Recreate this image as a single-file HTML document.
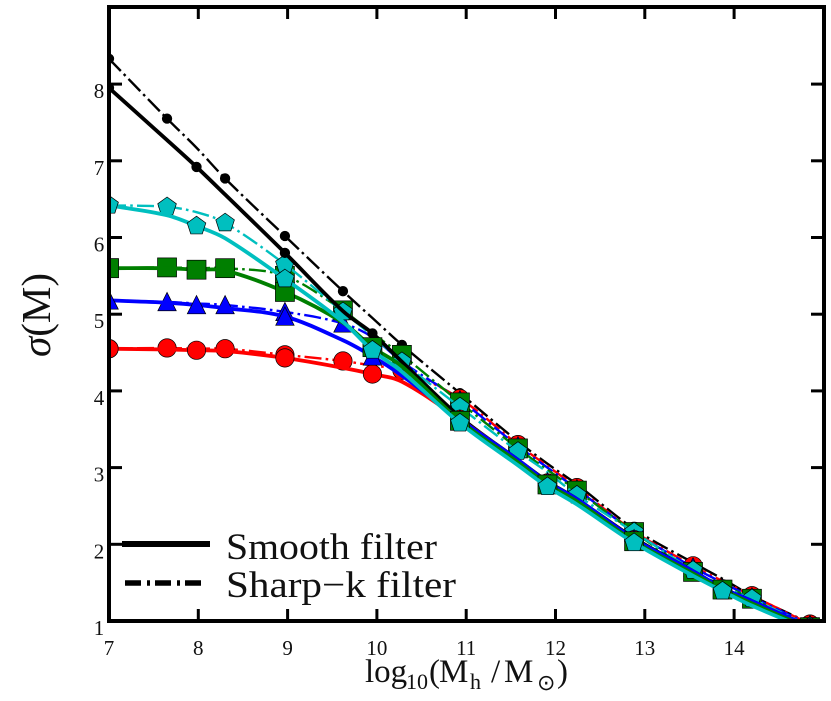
<!DOCTYPE html>
<html>
<head>
<meta charset="utf-8">
<style>
html,body{margin:0;padding:0;background:#fff;}
svg{display:block;font-family:"Liberation Serif",serif;}
</style>
</head>
<body>
<svg id="chart" xmlns="http://www.w3.org/2000/svg" width="831" height="701" viewBox="0 0 831 701">
<rect width="831" height="701" fill="#fff"/>
<defs><clipPath id="plot-clip"><rect x="109" y="7" width="715" height="614"/></clipPath></defs>
<g id="series" clip-path="url(#plot-clip)"></g>
<g id="axes"></g>
<text transform="translate(50,315) rotate(-90)" text-anchor="middle" font-size="41" fill="#111"><tspan font-style="italic">σ</tspan>(M)</text>
<g fill="#111" font-size="33">
<text x="365" y="682">log</text>
<text x="406" y="689" font-size="22">10</text>
<text x="429" y="682">(</text>
<text x="439" y="682">M</text>
<text x="470" y="689" font-size="22">h</text>
<text x="491" y="682">/</text>
<text x="504" y="682">M</text>
<text x="537" y="690" font-size="22">⊙</text>
<text x="557" y="682">)</text>
</g>
<g>
<line x1="122" y1="544" x2="210" y2="544" stroke="#000" stroke-width="6"/>
<text x="226" y="559" font-size="37" textLength="211" lengthAdjust="spacingAndGlyphs" fill="#111">Smooth filter</text>
<line x1="125" y1="583" x2="204" y2="583" stroke="#000" stroke-width="5.5" stroke-dasharray="16 6 3 5"/>
<text x="226" y="597" font-size="37" textLength="230" lengthAdjust="spacingAndGlyphs" fill="#111">Sharp−k filter</text>
</g>
</svg>
<script>
const logMass = [7,7.65,7.98,8.3,8.97,9.62,9.95,10.28,10.93,11.58,11.91,12.24,12.88,13.54,13.87,14.2,14.85];
const smoothIdx = [0,2,4,6,8,10,12,14,16];
const sharpIdx = [0,1,3,4,5,7,8,9,11,12,13,15,16];
const xTickLabels = [7,8,9,10,11,12,13,14];
const yTickLabels = [1,2,3,4,5,6,7,8];

const smoothBlack = [7.95,7.27,6.92,6.56,5.80,5.04,4.75,4.38,3.66,3.10,2.82,2.59,2.08,1.65,1.43,1.26,0.92];
const smoothRed   = [4.55,4.54,4.53,4.52,4.43,4.30,4.22,4.12,3.63,3.09,2.80,2.58,2.06,1.64,1.42,1.25,0.91];
const smoothBlue  = [5.18,5.15,5.12,5.08,4.97,4.66,4.45,4.20,3.63,3.10,2.81,2.59,2.07,1.65,1.43,1.26,0.92];
const smoothGreen = [5.60,5.60,5.58,5.57,5.29,4.89,4.57,4.32,3.61,3.07,2.78,2.56,2.04,1.62,1.41,1.23,0.90];
const smoothCyan  = [6.42,6.29,6.15,5.99,5.46,4.90,4.53,4.25,3.58,3.03,2.75,2.52,2.02,1.59,1.39,1.20,0.88];

const sharpBlack = [8.33,7.55,7.17,6.77,6.02,5.30,4.95,4.60,3.97,3.34,3.05,2.78,2.20,1.76,1.55,1.33,0.97];
const sharpRed   = [4.55,4.56,4.55,4.55,4.47,4.39,4.33,4.27,3.90,3.30,3.02,2.74,2.17,1.72,1.52,1.33,0.96];
const sharpBlue  = [5.18,5.16,5.14,5.12,5.03,4.88,4.70,4.38,3.88,3.28,3.00,2.72,2.16,1.70,1.50,1.31,0.95];
const sharpGreen = [5.60,5.61,5.60,5.60,5.50,5.05,4.75,4.47,3.85,3.25,2.97,2.70,2.16,1.64,1.47,1.29,0.92];
const sharpCyan  = [6.42,6.40,6.33,6.19,5.65,5.03,4.72,4.38,3.79,3.21,2.94,2.64,2.16,1.66,1.45,1.29,0.93];

const NS = 'http://www.w3.org/2000/svg';
function xScale(v){ return 109 + (v - 7) * 89.3; }
function yScale(v){ return 621 - (v - 1) * 76.7; }

function curvePath(xs, ys){
  const px = xs.map(xScale), py = ys.map(yScale), n = px.length, m = [];
  for(let i = 0; i < n; i++){
    if(i === 0) m.push((py[1]-py[0])/(px[1]-px[0]));
    else if(i === n-1) m.push((py[n-1]-py[n-2])/(px[n-1]-px[n-2]));
    else m.push((py[i+1]-py[i-1])/(px[i+1]-px[i-1]));
  }
  let d = 'M' + px[0].toFixed(2) + ' ' + py[0].toFixed(2);
  for(let i = 0; i < n-1; i++){
    const h = (px[i+1]-px[i])/3;
    d += 'C' + (px[i]+h).toFixed(2) + ' ' + (py[i]+m[i]*h).toFixed(2) + ' ' +
         (px[i+1]-h).toFixed(2) + ' ' + (py[i+1]-m[i+1]*h).toFixed(2) + ' ' +
         px[i+1].toFixed(2) + ' ' + py[i+1].toFixed(2);
  }
  return d;
}

function markerShape(kind, cx, cy){
  let el;
  if(kind === 'dot' || kind === 'circle'){
    el = document.createElementNS(NS, 'circle');
    el.setAttribute('cx', cx);
    el.setAttribute('cy', cy);
    el.setAttribute('r', kind === 'dot' ? 4.8 : 9.2);
  } else if(kind === 'square'){
    el = document.createElementNS(NS, 'rect');
    el.setAttribute('x', cx - 9.5);
    el.setAttribute('y', cy - 9.5);
    el.setAttribute('width', 19);
    el.setAttribute('height', 19);
  } else {
    el = document.createElementNS(NS, 'polygon');
    let pts;
    if(kind === 'triangle'){
      pts = [[0,-9.5],[9.2,8.8],[-9.2,8.8]];
    } else {
      pts = [0,1,2,3,4].map(function(i){
        const a = -Math.PI/2 + i*2*Math.PI/5;
        return [9.8*Math.cos(a), 9.8*Math.sin(a)];
      });
    }
    el.setAttribute('points', pts.map(function(p){ return (cx+p[0]).toFixed(2)+','+(cy+p[1]).toFixed(2); }).join(' '));
  }
  return el;
}

const seriesGroup = document.getElementById('series');

function drawSeries(name, values, indices, color, kind, solid){
  const g = document.createElementNS(NS, 'g');
  
  
  const line = document.createElementNS(NS, 'path');
  
  
  line.setAttribute('d', curvePath(logMass, values));
  line.setAttribute('fill', 'none');
  line.setAttribute('stroke', color);
  line.setAttribute('stroke-width', solid ? 3.8 : 2.4);
  if(!solid) line.setAttribute('stroke-dasharray', '17 4.2 2.6 4.2');
  g.appendChild(line);
  indices.forEach(function(i){
    const mk = markerShape(kind, xScale(logMass[i]), yScale(values[i]));
    
    
    mk.setAttribute('fill', color);
    mk.setAttribute('stroke', '#000');
    mk.setAttribute('stroke-width', '0.7');
    g.appendChild(mk);
  });
  seriesGroup.appendChild(g);
}

drawSeries('sharp-black', sharpBlack, sharpIdx, '#000000', 'dot', false);
drawSeries('sharp-red', sharpRed, sharpIdx, '#ff0000', 'circle', false);
drawSeries('sharp-blue', sharpBlue, sharpIdx, '#0000ff', 'triangle', false);
drawSeries('sharp-green', sharpGreen, sharpIdx, '#007f00', 'square', false);
drawSeries('sharp-cyan', sharpCyan, sharpIdx, '#00bfbf', 'pentagon', false);
drawSeries('smooth-black', smoothBlack, smoothIdx, '#000000', 'dot', true);
drawSeries('smooth-red', smoothRed, smoothIdx, '#ff0000', 'circle', true);
drawSeries('smooth-blue', smoothBlue, smoothIdx, '#0000ff', 'triangle', true);
drawSeries('smooth-green', smoothGreen, smoothIdx, '#007f00', 'square', true);
drawSeries('smooth-cyan', smoothCyan, smoothIdx, '#00bfbf', 'pentagon', true);

const axesGroup = document.getElementById('axes');

function addLine(name, x1, y1, x2, y2, w){
  const l = document.createElementNS(NS, 'line');
  
  
  l.setAttribute('x1', x1);
  l.setAttribute('y1', y1);
  l.setAttribute('x2', x2);
  l.setAttribute('y2', y2);
  l.setAttribute('stroke', '#000');
  l.setAttribute('stroke-width', w);
  axesGroup.appendChild(l);
}

function addLabel(name, x, y, str){
  const t = document.createElementNS(NS, 'text');
  
  
  t.setAttribute('x', x);
  t.setAttribute('y', y);
  t.setAttribute('text-anchor', 'middle');
  t.setAttribute('font-size', '21');
  t.setAttribute('fill', '#111');
  t.textContent = str;
  axesGroup.appendChild(t);
}

xTickLabels.forEach(function(v){
  const x = xScale(v);
  if(v !== 7){
    addLine('x-tick-bottom', x, 621, x, 609, 3);
    addLine('x-tick-top', x, 7, x, 19, 3);
  }
  addLabel('x-tick-label', x, 655, String(v));
});
yTickLabels.forEach(function(v){
  const y = yScale(v);
  if(v !== 1){
    addLine('y-tick-left', 109, y, 122, y, 3);
    addLine('y-tick-right', 824, y, 811, y, 3);
  }
  addLabel('y-tick-label', 99, y + 14, String(v));
});
addLine('spine-left', 109, 5, 109, 623, 4);
addLine('spine-right', 824, 5, 824, 623, 4);
addLine('spine-top', 107, 7, 826, 7, 4);
addLine('spine-bottom', 107, 621, 826, 621, 4);
</script>
</body>
</html>
